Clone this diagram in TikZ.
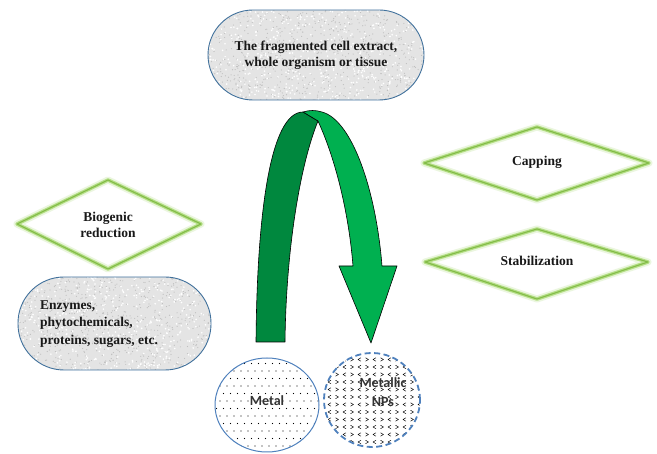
\documentclass[tikz,border=0pt]{standalone}
\usepackage{fontspec}
\setmainfont{Liberation Serif}
\newfontfamily\calib{Carlito}
\definecolor{stadborder}{RGB}{65,113,156}
\definecolor{stadfill}{RGB}{228,228,228}
\definecolor{darkg}{RGB}{0,136,62}
\definecolor{lightg}{RGB}{0,176,80}
\definecolor{glowg}{RGB}{146,208,80}
\definecolor{ellblue}{RGB}{79,129,189}
\begin{document}
\begin{tikzpicture}[x=1pt,y=-1pt,
  txt/.style={font=\bfseries\fontsize{13.5}{16}\selectfont, inner sep=0pt, text=black!90},
  sanstxt/.style={font=\calib\bfseries\fontsize{14}{15}\selectfont, inner sep=0pt, text=black!80, align=center},
  glowa/.style={draw=glowg!40, line width=7pt, line join=round, opacity=0.45},
  glowb/.style={draw=glowg!70, line width=3.5pt, line join=round},
  glowc/.style={draw=glowg!90!black, line width=1.1pt, line join=round},
  stad/.style={draw=stadborder, line width=0.9pt},
  band/.style={draw=black, line width=0.6pt, line join=round}
]
\useasboundingbox (0,0) rectangle (657,454);
\fill[white] (0,0) rectangle (657,454);

% ---------- granite stadiums ----------
\pgfmathsetseed{7}
\begin{scope}
  \clip[rounded corners=45pt] (208,10) rectangle (424,100);
  \fill[stadfill] (208,10) rectangle (424,100);
  \foreach \i in {1,...,700}{
    \pgfmathsetmacro\xx{208+216*rnd}\pgfmathsetmacro\yy{10+90*rnd}
    \fill[gray!50] (\xx,\yy) circle (0.6pt);}
  \foreach \i in {1,...,500}{
    \pgfmathsetmacro\xx{208+216*rnd}\pgfmathsetmacro\yy{10+90*rnd}
    \fill[white] (\xx,\yy) circle (0.9pt);}
\end{scope}
\draw[stad, rounded corners=45pt] (208,10) rectangle (424,100);
\node[txt, align=center] (top) at (316,55) {The fragmented cell extract,\\whole organism or tissue};

\begin{scope}
  \clip[rounded corners=46pt] (18,277) rectangle (211,370);
  \fill[stadfill] (18,277) rectangle (211,370);
  \foreach \i in {1,...,700}{
    \pgfmathsetmacro\xx{18+193*rnd}\pgfmathsetmacro\yy{277+93*rnd}
    \fill[gray!50] (\xx,\yy) circle (0.6pt);}
  \foreach \i in {1,...,500}{
    \pgfmathsetmacro\xx{18+193*rnd}\pgfmathsetmacro\yy{277+93*rnd}
    \fill[white] (\xx,\yy) circle (0.9pt);}
\end{scope}
\draw[stad, rounded corners=46pt] (18,277) rectangle (211,370);
\node[txt, align=left, anchor=west, font=\bfseries\fontsize{13.5}{17.5}\selectfont] (enz) at (40,324) {Enzymes,\\phytochemicals,\\proteins, sugars, etc.};

% ---------- glowing diamonds ----------
\foreach \s in {glowa,glowb,glowc}{
  \draw[\s] (17,224) -- (108,180) -- (201,224) -- (108,269) -- cycle;
  \draw[\s] (424,163) -- (537,127) -- (649,163) -- (537,200) -- cycle;
  \draw[\s] (425,262) -- (537,229) -- (648,262) -- (537,299) -- cycle;
}
\node[txt, align=center] (bio) at (108,225) {Biogenic\\reduction};
\node[txt] (cap) at (537,162) {Capping};
\node[txt] (stab) at (537,261) {Stabilization};

% ---------- curved arrow ----------
\filldraw[band, fill=darkg] (256,342) .. controls (257,215) and (270,112) .. (303,112)
  -- (318,121) .. controls (300,165) and (286,250) .. (285,342) -- cycle;
\filldraw[band, fill=lightg] (303,112) .. controls (309,110) and (316,110) .. (322,112)
  .. controls (352,120) and (376,190) .. (382,266) -- (397,266) -- (371,343) -- (339,266)
  -- (353,266) .. controls (349,215) and (336,160) .. (318,121) -- cycle;

% ---------- Metal ellipse (dots) ----------
\begin{scope}
  \clip (267,405) ellipse [x radius=52pt, y radius=47pt];
  \fill[white] (267,405) ellipse [x radius=52pt, y radius=47pt];
  \foreach \r in {0,...,13}{
    \foreach \c in {0,...,15}{
      \pgfmathsetmacro\xx{213+7*\c+3.5*mod(\r,2)}\pgfmathsetmacro\yy{356+7.5*\r}
      \fill[black] (\xx,\yy) circle (0.6pt);}}
\end{scope}
\draw[draw=ellblue, line width=1pt] (267,405) ellipse [x radius=52pt, y radius=47pt];
\node[sanstxt] (metal) at (267,401) {Metal};

% ---------- Metallic NPs ellipse (chevrons) ----------
\begin{scope}
  \clip (372,400) ellipse [x radius=48pt, y radius=47pt];
  \fill[white] (372,400) ellipse [x radius=48pt, y radius=47pt];
  \foreach \r in {0,...,13}{
    \foreach \c in {0,...,13}{
      \pgfmathsetmacro\xx{322+7.5*\c}\pgfmathsetmacro\yy{352+7.5*\r}
      \ifodd\c
        \draw[black, line width=0.5pt] (\xx+1.4,\yy-1.7) -- (\xx-1.4,\yy) -- (\xx+1.4,\yy+1.7);
      \else
        \draw[black, line width=0.5pt] (\xx-1.4,\yy-1.7) -- (\xx+1.4,\yy) -- (\xx-1.4,\yy+1.7);
      \fi}}
\end{scope}
\draw[draw=ellblue, line width=1.8pt, dash pattern=on 6pt off 3.5pt] (372,400) ellipse [x radius=48pt, y radius=47pt];
\node[sanstxt, font=\calib\bfseries\fontsize{14}{19}\selectfont] (nps) at (383,392) {Metallic\\NPs};
\end{tikzpicture}
\end{document}
